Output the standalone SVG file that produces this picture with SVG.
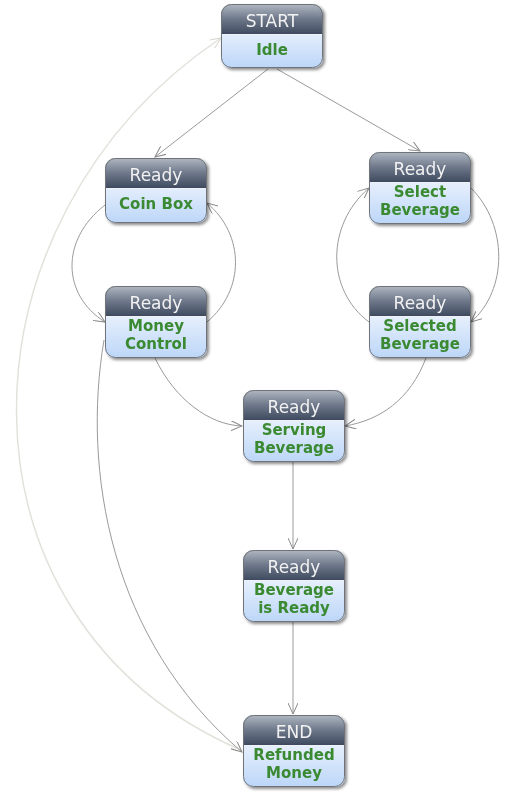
<svg xmlns="http://www.w3.org/2000/svg" width="516" height="795" viewBox="0 0 516 795">
  <defs>
    <linearGradient id="hdr" x1="0" y1="0" x2="0" y2="1">
      <stop offset="0" stop-color="#b0b8c2"/>
      <stop offset="0.5" stop-color="#6e788a"/>
      <stop offset="1" stop-color="#3f4a5f"/>
    </linearGradient>
    <linearGradient id="bdy" x1="0" y1="0" x2="0" y2="1">
      <stop offset="0" stop-color="#ffffff"/>
      <stop offset="0.2" stop-color="#f6f9fe"/>
      <stop offset="1" stop-color="#bcd6f8"/>
    </linearGradient>
    <filter id="shadow" x="-20%" y="-20%" width="150%" height="150%">
      <feDropShadow dx="2" dy="2" stdDeviation="1.6" flood-color="#000" flood-opacity="0.45"/>
    </filter>
    <marker id="arr" viewBox="0 0 12 10" refX="11" refY="5" markerWidth="12" markerHeight="10" markerUnits="userSpaceOnUse" orient="auto">
      <path d="M0,0 L11,5 L0,10" fill="none" stroke="#8a8a8a" stroke-width="1"/>
    </marker>
    <marker id="arrLight" viewBox="0 0 12 10" refX="11" refY="5" markerWidth="12" markerHeight="10" markerUnits="userSpaceOnUse" orient="auto">
      <path d="M0,0 L11,5 L0,10" fill="none" stroke="#d8d8d2" stroke-width="1"/>
    </marker>
    <!-- header shape with rounded top corners, 102 wide -->
    <path id="hdr2" d="M0,10 A10,10 0 0 1 10,0 H92 A10,10 0 0 1 102,10 V30 H0 Z"/>
  </defs>
  <style>
    .body { fill: url(#bdy); }
    .head { fill: url(#hdr); }
    .frame { fill: none; stroke: #6f7378; stroke-width: 1; }
    .sep { stroke: #eef2f8; stroke-width: 1; }
    .ht { font-family: "DejaVu Sans", Verdana, sans-serif; font-size: 17px; fill: #f2f2f2; text-anchor: middle; }
    .bt { font-family: "DejaVu Sans", Verdana, sans-serif; font-size: 15px; font-weight: bold; fill: #3a8a33; text-anchor: middle; }
    .edge { fill: none; stroke: #9a9a9a; stroke-width: 1; marker-end: url(#arr); }
    .edge-light { fill: none; stroke: #e2e2dc; stroke-width: 1.5; marker-end: url(#arrLight); }
  </style>

  <!-- connectors -->
  <g id="connectors">
    <path class="edge-light" d="M241,750 C-60,620 -50,220 221,38"/>
    <path class="edge" d="M268,69 L155,157"/>
    <path class="edge" d="M277,69 L420,151"/>
    <path class="edge" d="M105,205 C60,240 62,295 105,322"/>
    <path class="edge" d="M207,322 C245,290 245,235 207,203"/>
    <path class="edge" d="M471,188 C508,225 508,290 471,322"/>
    <path class="edge" d="M369,322 C326,290 326,225 369,188"/>
    <path class="edge" d="M155,358 C175,400 210,425 242,426"/>
    <path class="edge" d="M426,358 C410,400 380,420 345,426"/>
    <path class="edge" d="M293,462 L293,549"/>
    <path class="edge" d="M293,622 L293,714"/>
    <path class="edge" d="M104,340 C82,470 110,640 242,752"/>
  </g>

  <g id="start" transform="translate(221,4)" filter="url(#shadow)">
    <rect class="body" width="102" height="64" rx="10"/>
    <use href="#hdr2" class="head"/>
    <line class="sep" x1="1" y1="30.5" x2="101" y2="30.5"/>
    <rect class="frame" x="0.5" y="0.5" width="101" height="63" rx="10"/>
    <text class="ht" x="51" y="23">START</text>
    <text class="bt" x="51" y="51">Idle</text>
  </g>

  <g id="coin-box" transform="translate(105,158)" filter="url(#shadow)">
    <rect class="body" width="102" height="65" rx="10"/>
    <use href="#hdr2" class="head"/>
    <line class="sep" x1="1" y1="30.5" x2="101" y2="30.5"/>
    <rect class="frame" x="0.5" y="0.5" width="101" height="64" rx="10"/>
    <text class="ht" x="51" y="23">Ready</text>
    <text class="bt" x="51" y="51">Coin Box</text>
  </g>

  <g id="select-beverage" transform="translate(369,152)" filter="url(#shadow)">
    <rect class="body" width="102" height="72" rx="10"/>
    <use href="#hdr2" class="head"/>
    <line class="sep" x1="1" y1="30.5" x2="101" y2="30.5"/>
    <rect class="frame" x="0.5" y="0.5" width="101" height="71" rx="10"/>
    <text class="ht" x="51" y="23">Ready</text>
    <text class="bt" x="51" y="45">Select</text>
    <text class="bt" x="51" y="63">Beverage</text>
  </g>

  <g id="money-control" transform="translate(105,286)" filter="url(#shadow)">
    <rect class="body" width="102" height="72" rx="10"/>
    <use href="#hdr2" class="head"/>
    <line class="sep" x1="1" y1="30.5" x2="101" y2="30.5"/>
    <rect class="frame" x="0.5" y="0.5" width="101" height="71" rx="10"/>
    <text class="ht" x="51" y="23">Ready</text>
    <text class="bt" x="51" y="45">Money</text>
    <text class="bt" x="51" y="63">Control</text>
  </g>

  <g id="selected-beverage" transform="translate(369,286)" filter="url(#shadow)">
    <rect class="body" width="102" height="72" rx="10"/>
    <use href="#hdr2" class="head"/>
    <line class="sep" x1="1" y1="30.5" x2="101" y2="30.5"/>
    <rect class="frame" x="0.5" y="0.5" width="101" height="71" rx="10"/>
    <text class="ht" x="51" y="23">Ready</text>
    <text class="bt" x="51" y="45">Selected</text>
    <text class="bt" x="51" y="63">Beverage</text>
  </g>

  <g id="serving-beverage" transform="translate(243,390)" filter="url(#shadow)">
    <rect class="body" width="102" height="72" rx="10"/>
    <use href="#hdr2" class="head"/>
    <line class="sep" x1="1" y1="30.5" x2="101" y2="30.5"/>
    <rect class="frame" x="0.5" y="0.5" width="101" height="71" rx="10"/>
    <text class="ht" x="51" y="23">Ready</text>
    <text class="bt" x="51" y="45">Serving</text>
    <text class="bt" x="51" y="63">Beverage</text>
  </g>

  <g id="beverage-ready" transform="translate(243,550)" filter="url(#shadow)">
    <rect class="body" width="102" height="72" rx="10"/>
    <use href="#hdr2" class="head"/>
    <line class="sep" x1="1" y1="30.5" x2="101" y2="30.5"/>
    <rect class="frame" x="0.5" y="0.5" width="101" height="71" rx="10"/>
    <text class="ht" x="51" y="23">Ready</text>
    <text class="bt" x="51" y="45">Beverage</text>
    <text class="bt" x="51" y="63">is Ready</text>
  </g>

  <g id="end" transform="translate(243,715)" filter="url(#shadow)">
    <rect class="body" width="102" height="72" rx="10"/>
    <use href="#hdr2" class="head"/>
    <line class="sep" x1="1" y1="30.5" x2="101" y2="30.5"/>
    <rect class="frame" x="0.5" y="0.5" width="101" height="71" rx="10"/>
    <text class="ht" x="51" y="23">END</text>
    <text class="bt" x="51" y="45">Refunded</text>
    <text class="bt" x="51" y="63">Money</text>
  </g>
</svg>
